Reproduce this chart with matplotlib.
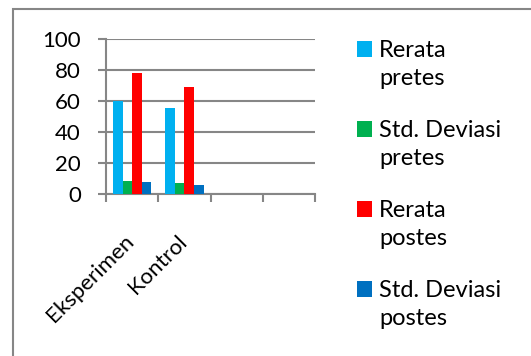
import matplotlib.pyplot as plt
import numpy as np
from matplotlib.patches import Rectangle

plt.rcParams['font.family'] = ['Lato', 'DejaVu Sans']

categories = ['Eksperimen', 'Kontrol', '', '']
series = ['Rerata\npretes', 'Std. Deviasi\npretes', 'Rerata\npostes', 'Std. Deviasi\npostes']
rerata_pretes = [60, 55.3]
std_pretes = [8.4, 6.9]
rerata_postes = [78, 68.9]
std_postes = [7.8, 5.9]
colors = ['#00B0F0', '#00B050', '#FF0000', '#0070C0']

W, H = 531, 356
fig = plt.figure(figsize=(W / 100, H / 100), dpi=100)
ax = fig.add_axes([106/W, 1-194/H, 209/W, 155/H])

grid = '#868686'
# outer chart frame (only left/top visible in the crop)
fig.patches.append(Rectangle((12.5/W, -0.1), 1.0, 1-9/H+0.1, transform=fig.transFigure,
                             fill=False, edgecolor=grid, lw=1.5))

w = 0.184
x = np.arange(len(rerata_pretes))
for i, vals in enumerate([rerata_pretes, std_pretes, rerata_postes, std_postes]):
    ax.bar(x + (i - 1.5) * w, vals, width=w, color=colors[i], label=series[i], zorder=3)

ax.set_xlim(-0.5, len(categories) - 0.5)
ax.set_ylim(0, 100)
ax.set_yticks(range(0, 101, 20))
ax.yaxis.grid(True, color=grid, lw=1.5, zorder=0)
for s in ['top', 'right']:
    ax.spines[s].set_visible(False)
for s in ['left', 'bottom']:
    ax.spines[s].set_color(grid)
    ax.spines[s].set_linewidth(1.5)
ax.tick_params(axis='y', length=6, width=1.5, color=grid, pad=12, labelsize=16)
ax.set_xticks(np.arange(len(categories) + 1) - 0.5, minor=False)
ax.set_xticklabels([])
ax.set_xticks(np.arange(len(categories)) - 0.02, minor=True)
ax.set_xticklabels(categories, minor=True, rotation=45, ha='right', va='center',
                   rotation_mode='anchor', fontsize=16)
ax.tick_params(axis='x', which='major', length=6, width=1.5, color=grid)
ax.tick_params(axis='x', which='minor', length=0, pad=32)

# legend: square aligned with the first line of each two-line label
for i, lab in enumerate(series):
    base = 56.7 + 80 * i
    fig.patches.append(Rectangle((357/W, 1-base/H), 15/W, 16/H, transform=fig.transFigure,
                                 color=colors[i], lw=0))
    fig.text(379/W, 1-(base-17)/H, lab, fontsize=17, va='top', ha='left', linespacing=1.45)

fig.savefig('out.png', dpi=100)
